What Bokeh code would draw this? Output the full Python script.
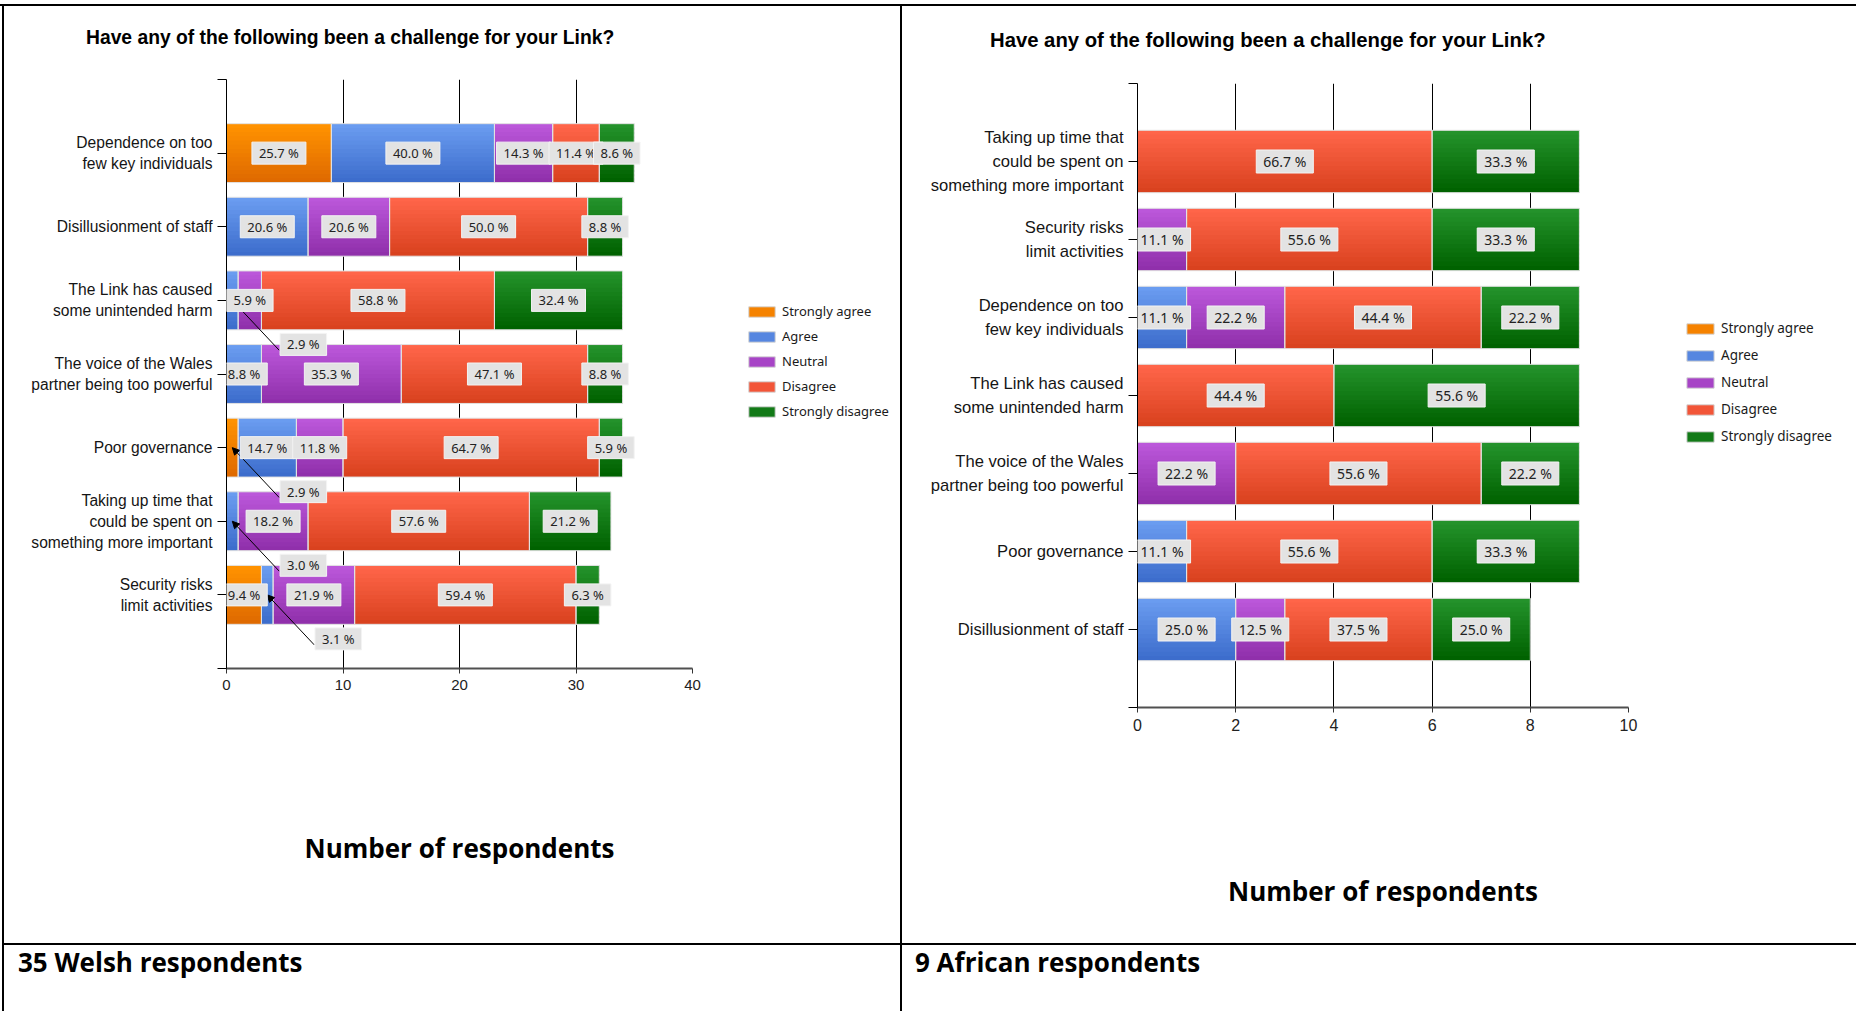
from decimal import Decimal, ROUND_HALF_UP

from bokeh.embed import file_html
from bokeh.layouts import column, row
from bokeh.models import (Arrow, ColumnDataSource, Div, FixedTicker, Label, Legend,
                          LegendItem, NormalHead, Range1d)
from bokeh.plotting import figure
from bokeh.resources import INLINE

# ---------------------------------------------------------------- data
QUESTION = "Have any of the following been a challenge for your Link?"
RESPONSES = ["Strongly agree", "Agree", "Neutral", "Disagree", "Strongly disagree"]
AXIS_TITLE = "Number of respondents"

welsh_statements = [
    "Dependence on too\nfew key individuals",
    "Disillusionment of staff",
    "The Link has caused\nsome unintended harm",
    "The voice of the Wales\npartner being too powerful",
    "Poor governance",
    "Taking up time that\ncould be spent on\nsomething more important",
    "Security risks\nlimit activities",
]
welsh_strongly_agree = [9, 0, 0, 0, 1, 0, 3]
welsh_agree = [14, 7, 1, 3, 5, 1, 1]
welsh_neutral = [5, 7, 2, 12, 4, 6, 7]
welsh_disagree = [4, 17, 20, 16, 22, 19, 19]
welsh_strongly_disagree = [3, 3, 11, 3, 2, 7, 2]
welsh_ticks = [0, 10, 20, 30, 40]
welsh_caption = "35 Welsh respondents"

african_statements = [
    "Taking up time that\ncould be spent on\nsomething more important",
    "Security risks\nlimit activities",
    "Dependence on too\nfew key individuals",
    "The Link has caused\nsome unintended harm",
    "The voice of the Wales\npartner being too powerful",
    "Poor governance",
    "Disillusionment of staff",
]
african_strongly_agree = [0, 0, 0, 0, 0, 0, 0]
african_agree = [0, 0, 1, 0, 0, 1, 2]
african_neutral = [0, 1, 2, 0, 2, 0, 1]
african_disagree = [6, 5, 4, 4, 5, 5, 3]
african_strongly_disagree = [3, 3, 2, 5, 2, 3, 2]
african_ticks = [0, 2, 4, 6, 8, 10]
african_caption = "9 African respondents"

# ---------------------------------------------------------------- styling
GRADIENT = [
    ("#ff9200", "#df6a00"),
    ("#6a9cf0", "#3d6dcc"),
    ("#bb57da", "#9030ab"),
    ("#ff6549", "#d9421f"),
    ("#24922b", "#006200"),
]
SWATCH = ["#f58200", "#5686e0", "#a744c6", "#f25538", "#127a17"]
BAR_H = 0.8
BANDS = 14


def mix(c1, c2, t):
    a = [int(c1[i:i + 2], 16) for i in (1, 3, 5)]
    b = [int(c2[i:i + 2], 16) for i in (1, 3, 5)]
    return "#%02x%02x%02x" % tuple(round(a[k] + (b[k] - a[k]) * t) for k in range(3))


def pct_text(n, total):
    q = (Decimal(n) * 100 / Decimal(total)).quantize(Decimal("0.1"), rounding=ROUND_HALF_UP)
    return f"{q} %"


def build_chart(statements, counts, ticks, g):
    xmax = ticks[-1]
    n_slots = len(statements) + 1
    xu = g["fw"] / xmax
    yu = g["fh"] / n_slots

    p = figure(frame_width=g["fw"], frame_height=g["fh"],
               min_border_left=g["left"], min_border_top=g["top"],
               min_border_right=g["right"], min_border_bottom=g["bottom"],
               x_range=Range1d(0, xmax), y_range=Range1d(n_slots, 0),
               toolbar_location=None, tools="", output_backend="svg", title=None)
    p.outline_line_color = None
    p.background_fill_color = "white"
    p.border_fill_color = "white"

    # stacked segments
    segs = []
    for i in range(len(statements)):
        pos = i + 1
        total = sum(c[i] for c in counts)
        acc = 0
        for j, c in enumerate(counts):
            n = c[i]
            if n == 0:
                continue
            segs.append((pos, acc, acc + n, j, n, total))
            acc += n

    band = dict(y=[], left=[], right=[], h=[], c=[])
    for pos, l, r, j, n, tot in segs:
        top_c, bot_c = GRADIENT[j]
        for k in range(BANDS):
            y0 = pos - BAR_H / 2 + k * BAR_H / BANDS
            y1 = min(pos + BAR_H / 2, y0 + 1.5 * BAR_H / BANDS)
            band["y"].append((y0 + y1) / 2)
            band["h"].append(y1 - y0)
            band["left"].append(l)
            band["right"].append(r)
            band["c"].append(mix(top_c, bot_c, k / (BANDS - 1)))
    p.hbar(y="y", left="left", right="right", height="h", fill_color="c",
           line_color=None, source=ColumnDataSource(band))
    p.hbar(y=[s[0] for s in segs], left=[s[1] for s in segs], right=[s[2] for s in segs],
           height=BAR_H, fill_color=None, line_color="#e2e2e2", line_width=1)

    # value labels
    inside, outside = [], []
    lab_kw = dict(text_font=g["pct_font"], text_font_size=g["pct_size"], text_color="#222222",
                  text_align="center", text_baseline="middle",
                  background_fill_color="#e3e3e3", border_line_color="#f3f3f3",
                  padding=(7, 2))
    for pos, l, r, j, n, tot in segs:
        cx = (l + r) / 2
        txt = pct_text(n, tot)
        if (r - l) * xu < 20:
            p.add_layout(Arrow(end=NormalHead(size=7, fill_color="black", line_color="black"),
                               x_start=cx + 47 / xu, y_start=pos + 50 / yu,
                               x_end=cx, y_end=pos, line_color="black", line_width=1))
            outside.append(Label(x=cx, y=pos, x_offset=71, y_offset=-44, text=txt, **lab_kw))
        else:
            inside.append(Label(x=cx, y=pos, text=txt, **lab_kw))
    for lab in inside + outside:
        p.add_layout(lab)

    # axes
    overrides = {0: "", n_slots: ""}
    for i, s in enumerate(statements):
        overrides[i + 1] = s
    ya = p.yaxis[0]
    ya.ticker = FixedTicker(ticks=list(range(n_slots + 1)))
    ya.major_label_overrides = overrides
    ya.major_tick_out = 9
    ya.major_tick_in = 0
    ya.minor_tick_line_color = None
    ya.axis_line_color = "black"
    ya.major_tick_line_color = "black"
    ya.major_label_standoff = 5
    ya.major_label_text_font = "Liberation Sans"
    ya.major_label_text_font_size = g["cat_size"]
    ya.major_label_text_color = "#151515"
    ya.major_label_text_line_height = g["cat_lh"]

    xa = p.xaxis[0]
    xa.ticker = FixedTicker(ticks=ticks)
    xa.major_tick_out = 5
    xa.major_tick_in = 0
    xa.minor_tick_line_color = None
    xa.axis_line_color = "#505050"
    xa.axis_line_width = 2
    xa.major_tick_line_color = "#333333"
    xa.major_label_standoff = 6
    xa.major_label_text_font = "Liberation Sans"
    xa.major_label_text_font_size = g["tick_size"]
    xa.major_label_text_color = "#222222"
    xa.axis_label = AXIS_TITLE
    xa.axis_label_text_font = "Open Sans"
    xa.axis_label_text_font_style = "bold"
    xa.axis_label_text_font_size = "26px"
    xa.axis_label_text_color = "black"
    xa.axis_label_standoff = g["axlab_standoff"]

    p.xgrid.ticker = FixedTicker(ticks=ticks)
    p.xgrid.grid_line_color = "black"
    p.xgrid.grid_line_width = 1
    p.ygrid.grid_line_color = None
    return p


def legend_panel(g):
    # a side canvas whose plot area lines up with the chart's, holding the key
    f = figure(frame_width=g["leg_w"], frame_height=g["fh"], min_border_left=0,
               min_border_right=0, min_border_top=g["top"], min_border_bottom=g["bottom"],
               x_range=Range1d(0, 1), y_range=Range1d(0, 1), x_axis_type=None,
               y_axis_type=None, toolbar_location=None, tools="", output_backend="svg",
               title=None)
    f.outline_line_color = None
    f.grid.visible = False
    items = []
    for j, name in enumerate(RESPONSES):
        # hidden proxy bars: only their key swatch is drawn
        r = f.hbar(y=[0.5], left=[0], right=[1], height=BAR_H, fill_color=SWATCH[j],
                   line_color="#d4d4d4", line_width=1, visible=False)
        items.append(LegendItem(label=name, renderers=[r]))
    leg = Legend(items=items, location=g["leg_loc"], glyph_width=g["glyph_w"],
                 glyph_height=13, label_height=g["row_h"], spacing=5, padding=0, margin=0,
                 label_standoff=4, border_line_alpha=0, background_fill_alpha=0,
                 inactive_fill_alpha=0, click_policy="none",
                 label_text_font="Noto Sans", label_text_font_size=g["leg_size"],
                 label_text_color="#1a1a1a")
    f.add_layout(leg)
    return f


def rule(w, h, color):
    return Div(text="", width=w, height=h, margin=0, styles={"background-color": color})


def text_block(w, h, text, pad_left, pad_top, font, size, line_h):
    html = (f'<div style="font-family: \'{font}\'; font-weight: bold; font-size: {size}; '
            f'line-height: {line_h}px; padding-left: {pad_left}px; padding-top: {pad_top}px; '
            f'color: black; white-space: nowrap;">{text}</div>')
    return Div(text=html, width=w, height=h, margin=0)


def panel(statements, counts, ticks, g, caption_text):
    chart = build_chart(statements, counts, ticks, g)
    key = legend_panel(g)
    title = text_block(g["col_w"], g["title_h"], QUESTION, g["title_x"], g["title_pad"],
                       "Liberation Sans", g["title_size"], 24)
    cap = text_block(g["col_w"], 66, caption_text, g["cap_x"], 0, "Open Sans", "26px", 34)
    return column(title, row(chart, key, spacing=0), rule(g["col_w"], 2, "black"), cap,
                  spacing=0)


welsh_geo = dict(col_w=896, title_h=60, title_x=82, title_pad=20, title_size="19.3px",
                 left=222, top=13, fw=466, fh=589, right=10, bottom=275, leg_w=198,
                 leg_loc=(43, 247), glyph_w=33, row_h=20, leg_size="13px",
                 cat_size="15.6px", cat_lh=1.23, tick_size="15px",
                 pct_font="Noto Sans", pct_size="13px", axlab_standoff=137, cap_x=14)
african_geo = dict(col_w=954, title_h=60, title_x=88, title_pad=22, title_size="20.3px",
                   left=235, top=17, fw=491, fh=624, right=10, bottom=236, leg_w=218,
                   leg_loc=(45, 260), glyph_w=34, row_h=22, leg_size="13.5px",
                   cat_size="16.6px", cat_lh=1.26, tick_size="16px",
                   pct_font="Noto Sans", pct_size="14px", axlab_standoff=139, cap_x=13)

welsh_counts = [welsh_strongly_agree, welsh_agree, welsh_neutral, welsh_disagree,
                welsh_strongly_disagree]
african_counts = [african_strongly_agree, african_agree, african_neutral, african_disagree,
                  african_strongly_disagree]

left_col = panel(welsh_statements, welsh_counts, welsh_ticks, welsh_geo, welsh_caption)
right_col = panel(african_statements, african_counts, african_ticks, african_geo,
                  african_caption)
body = row(rule(2, 1005, "white"), rule(2, 1005, "black"), left_col,
           rule(2, 1005, "black"), right_col, spacing=0)
page = column(rule(1856, 4, "white"), rule(1856, 2, "black"), body, spacing=0)

open("out.html", "w").write(file_html(page, INLINE))
